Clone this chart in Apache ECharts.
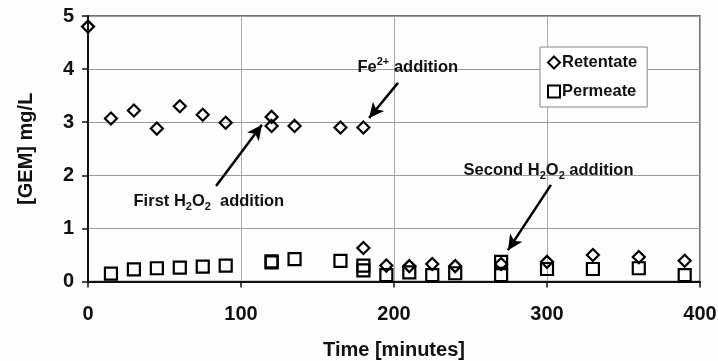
<!DOCTYPE html>
<html>
<head>
<meta charset="utf-8">
<script src="https://cdn.jsdelivr.net/npm/echarts@6/dist/echarts.min.js"></script>
<style>
html,body{margin:0;padding:0;background:#fff;}
#chart{width:718px;height:361px;}
</style>
</head>
<body>
<div id="chart"></div>
<script>
const retentateTime = [0,15,30,45,60,75,90,120,120,135,165,180,180,195,210,225,240,270,300,330,360,390];
const retentateValues = [4.8,3.07,3.22,2.88,3.30,3.14,2.99,3.10,2.93,2.93,2.90,2.90,0.63,0.30,0.29,0.33,0.29,0.33,0.37,0.50,0.46,0.39];
const permeateTime = [15,30,45,60,75,90,120,120,135,165,180,180,195,210,225,240,270,270,300,330,360,390];
const permeateValues = [0.15,0.23,0.25,0.26,0.28,0.30,0.38,0.36,0.42,0.39,0.30,0.21,0.12,0.17,0.12,0.155,0.37,0.12,0.235,0.235,0.25,0.12];
const xTicks = [0,100,200,300,400];
const yTicks = [0,1,2,3,4,5];
const seriesNames = ['Retentate','Permeate'];

const FONT = '"Liberation Sans", Arial, sans-serif';
const rich = {
  n:{fontFamily:FONT,fontWeight:'bold',fontSize:16.5,color:'#111'},
  s:{fontFamily:FONT,fontWeight:'bold',fontSize:11,color:'#111',padding:[10,0,0,0]},
  p:{fontFamily:FONT,fontWeight:'bold',fontSize:11,color:'#111',padding:[0,0,10,0]}
};
function note(coord, fmt){
  return {coord:coord, symbol:'circle', symbolSize:0,
    label:{show:true, position:'inside', formatter:fmt, rich:rich}};
}
function arrow(a,b){ return [{coord:a},{coord:b}]; }

const chart = echarts.init(document.getElementById('chart'), null, {renderer:'canvas'});
chart.setOption({
  animation:false,
  backgroundColor:'#fdfdfd',
  grid:{left:88,right:18,top:16,bottom:79.5,containLabel:false,outerBoundsMode:'none',
        show:true,borderColor:'#444',borderWidth:1.5,backgroundColor:'transparent'},
  legend:{
    data:[{name:seriesNames[0],icon:'diamond'},{name:seriesNames[1],icon:'rect'}],
    orient:'vertical', left:540, top:47,
    padding:[7,10,7,7], itemGap:12, itemWidth:12, itemHeight:12,
    backgroundColor:'#fff', borderColor:'#888', borderWidth:1,
    itemStyle:{opacity:1},
    textStyle:{fontFamily:FONT,fontWeight:'bold',fontSize:16.5,color:'#111',padding:[0,0,0,-3]}
  },
  xAxis:{
    type:'value', min:xTicks[0], max:xTicks[xTicks.length-1], interval:100,
    name:'Time [minutes]', nameLocation:'middle', nameGap:59,
    nameTextStyle:{fontFamily:FONT,fontWeight:'bold',fontSize:20,color:'#111'},
    axisLine:{show:true,onZero:false,lineStyle:{color:'#111',width:2}},
    axisTick:{show:true,length:6,lineStyle:{color:'#111',width:1.5}},
    axisLabel:{fontFamily:FONT,fontWeight:'bold',fontSize:20,color:'#111',margin:23},
    splitLine:{show:true,lineStyle:{color:'#aaa',width:1}}
  },
  yAxis:{
    type:'value', min:yTicks[0], max:yTicks[yTicks.length-1], interval:1,
    name:'[GEM] mg/L', nameLocation:'middle', nameGap:52,
    nameTextStyle:{fontFamily:FONT,fontWeight:'bold',fontSize:20,color:'#111'},
    axisLine:{show:true,lineStyle:{color:'#111',width:2}},
    axisTick:{show:true,length:6,lineStyle:{color:'#111',width:1.5}},
    axisLabel:{fontFamily:FONT,fontWeight:'bold',fontSize:20,color:'#111',margin:14},
    splitLine:{show:true,lineStyle:{color:'#999',width:1}}
  },
  series:[
    {
      name:seriesNames[0], type:'scatter', symbol:'diamond', symbolSize:[12,12],
      itemStyle:{color:'rgba(255,255,255,0)',borderColor:'#000',borderWidth:2.2,opacity:1},
      data:retentateTime.map((t,i)=>[t,retentateValues[i]]),
      z:3,
      markLine:{
        silent:true, symbol:['none','arrow'], symbolSize:[11,15],
        lineStyle:{color:'#000',width:2.5,type:'solid',opacity:1}, label:{show:false},
        data:[
          arrow([202.6,3.74],[183.7,3.08]),
          arrow([83.7,1.80],[113.7,2.95]),
          arrow([302.6,1.82],[274.5,0.59])
        ]
      },
      markPoint:{
        silent:true,
        data:[
          note([209,4.04], '{n|Fe}{p|2+}{n| addition}'),
          note([79,1.50], '{n|First H}{s|2}{n|O}{s|2}{n|  addition}'),
          note([301,2.09], '{n|Second H}{s|2}{n|O}{s|2}{n| addition}')
        ]
      }
    },
    {
      name:seriesNames[1], type:'scatter', symbol:'rect', symbolSize:[12,12],
      itemStyle:{color:'rgba(255,255,255,0)',borderColor:'#000',borderWidth:2.2,opacity:1},
      data:permeateTime.map((t,i)=>[t,permeateValues[i]]),
      z:2
    }
  ]
});
</script>
</body>
</html>
